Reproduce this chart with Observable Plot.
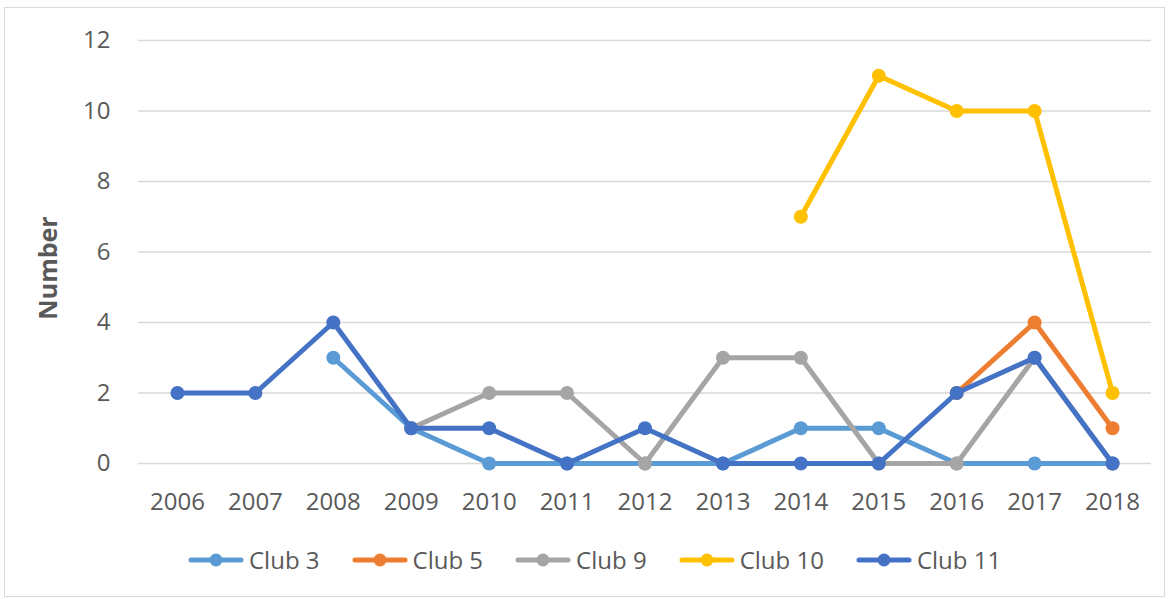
<!DOCTYPE html>
<html><head><meta charset="utf-8">
<script src="https://cdn.jsdelivr.net/npm/d3@7"></script>
<script src="https://cdn.jsdelivr.net/npm/@observablehq/plot@0.6"></script>
<style>
body{margin:0;background:#fff;font-family:"Open Sans",sans-serif;}
#wrap{position:relative;width:1169px;height:599px;overflow:hidden;}
#frame{position:absolute;left:4px;top:7px;width:1161px;height:590px;border:1px solid #d9d9d9;box-sizing:border-box;pointer-events:none;}
#chart{position:absolute;left:0;top:0;}
#legend{position:absolute;left:188px;top:543px;display:flex;align-items:center;gap:32px;font-size:24px;color:#595959;}
.item{display:flex;align-items:center;gap:5px;}
</style></head>
<body>
<div id="wrap"><div id="chart"></div><div id="legend"></div><div id="frame"></div></div>
<script>
const years = [2006,2007,2008,2009,2010,2011,2012,2013,2014,2015,2016,2017,2018];
const club3  = [null,null,3,1,0,0,0,0,1,1,0,0,0];
const club5  = [null,null,null,null,null,null,null,null,null,null,2,4,1];
const club9  = [null,null,null,1,2,2,0,3,3,0,0,3,0];
const club10 = [null,null,null,null,null,null,null,null,7,11,10,10,2];
const club11 = [2,2,4,1,1,0,1,0,0,0,2,3,0];
const seriesNames = ["Club 3","Club 5","Club 9","Club 10","Club 11"];
const seriesValues = [club3, club5, club9, club10, club11];
const colors = ["#5B9BD5","#ED7D31","#A5A5A5","#FFC000","#4472C4"];
const yTicks = [0,2,4,6,8,10,12];
const yLabel = "Number";

const rows = seriesNames.map((name, i) =>
  years.map((yr, j) => ({year: yr, value: seriesValues[i][j], series: name}))
       .filter(d => d.value != null));

const seriesMarks = rows.flatMap(data => [
  Plot.line(data, {x: "year", y: "value", stroke: "series", strokeWidth: 5, strokeLinejoin: "round", strokeLinecap: "round"}),
  Plot.dot(data, {x: "year", y: "value", fill: "series", r: 7})
]);

const chart = Plot.plot({
  width: 1169,
  height: 530,
  marginLeft: 138,
  marginRight: 18,
  marginTop: 40,
  marginBottom: 67,
  style: {fontFamily: "Open Sans, sans-serif", fontSize: "24px", color: "#595959", background: "transparent"},
  x: {type: "point", domain: years, padding: 0.5, round: false, label: null},
  y: {domain: [0, 12], label: null},
  color: {domain: seriesNames, range: colors},
  marks: [
    Plot.gridY(yTicks, {stroke: "#d9d9d9", strokeOpacity: 1, strokeWidth: 1.5}),
    Plot.axisY(yTicks, {tickSize: 0, tickPadding: 28, label: null, fill: "#595959"}),
    Plot.axisX(years, {tickSize: 0, tickPadding: 29, label: null, fill: "#595959", tickFormat: d => String(d)}),
    Plot.text([yLabel], {frameAnchor: "left", textAnchor: "middle", lineAnchor: "middle", dx: -90, dy: 16, rotate: -90, fontWeight: "bold", fontSize: 25, fill: "#595959"}),
    ...seriesMarks
  ]
});
document.getElementById("chart").appendChild(chart);

const legend = document.getElementById("legend");
seriesNames.forEach((name, i) => {
  const item = document.createElement("div");
  item.className = "item";
  item.innerHTML = `<svg width="56" height="16"><line x1="3" y1="8" x2="53" y2="8" stroke="${colors[i]}" stroke-width="5" stroke-linecap="round"/><circle cx="28" cy="8" r="6.5" fill="${colors[i]}"/></svg><span>${name}</span>`;
  legend.appendChild(item);
});
</script>
</body></html>
